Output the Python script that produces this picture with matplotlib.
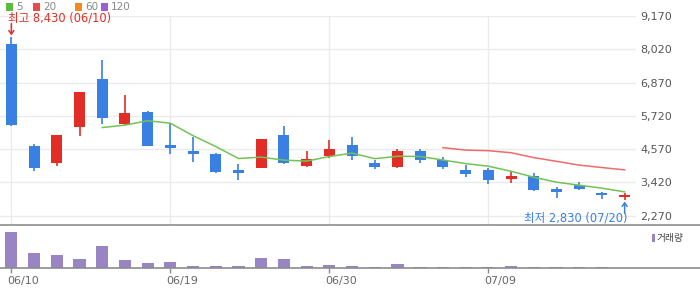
import numpy as np
import pandas as pd
import matplotlib
matplotlib.use("Agg")
import matplotlib.pyplot as plt
import matplotlib.transforms as mtransforms
from matplotlib.lines import Line2D
from matplotlib.patches import Rectangle

# -----------------------------
# data
# -----------------------------
tick_pos = [0, 7, 14, 21]
tick_labels = ["06/10", "06/19", "06/30", "07/09"]

opens = [8200, 4680, 4100, 5350, 6990, 5440, 5850, 4710, 4500, 4400,
         3850, 3930, 5060, 4000, 4340, 4710, 4100, 3960, 4510, 4200,
         3850, 3860, 3550, 3640, 3190, 3340, 3065, 2930]
highs = [8430, 4750, 5060, 6540, 7650, 6440, 5890, 5460, 5000, 4440,
         4060, 4920, 5370, 4510, 4890, 4990, 4195, 4590, 4590, 4300,
         4020, 3930, 3815, 3750, 3270, 3435, 3100, 3065]
lows = [5380, 3820, 4000, 5020, 5440, 5400, 4680, 4400, 4130, 3750,
        3500, 3930, 4070, 3960, 4275, 4200, 3890, 3930, 4100, 3890,
        3620, 3380, 3410, 3130, 2890, 3170, 2860, 2830]
closes = [5400, 3920, 5060, 6540, 5660, 5820, 4680, 4620, 4400, 3780,
          3750, 4920, 4100, 4230, 4575, 4340, 3960, 4510, 4200, 3960,
          3720, 3510, 3640, 3170, 3100, 3200, 3000, 3000]
volumes = [3630, 1500, 1300, 900, 2200, 800, 500, 600, 200, 200,
           200, 1000, 900, 200, 300, 200, 100, 430, 100, 100,
           100, 100, 200, 100, 100, 100, 100, 0]

price_ticks = [2270, 3420, 4570, 5720, 6870, 8020, 9170]
hi_label = "최고 8,430 (06/10)"
lo_label = "최저 2,830 (07/20)"

# -----------------------------
# style
# -----------------------------
UP = "#e12d26"
DOWN = "#3a7fe2"
MA5_C = "#72c356"
MA20_C = "#ef6b6b"
VOL_C = "#9a85c4"
GRID = "#ebebeb"
FONT = ["DejaVu Sans", "Noto Sans CJK KR"]
plt.rcParams["font.family"] = FONT

W, H = 700, 289
fig = plt.figure(figsize=(7, 2.89), dpi=100)

def fx(px):
    return px / W

def fy(py):
    return 1 - py / H

ax = fig.add_axes([0, fy(225), fx(636), fy(16) - fy(225)])
axv = fig.add_axes([0, fy(268), fx(636), fy(225) - fy(268)])

n = len(closes)
x = np.arange(n)
ma5 = pd.Series(closes).rolling(5).mean()
ma20 = pd.Series(closes).rolling(20).mean()

# grid
for t in price_ticks:
    ax.axhline(t, color=GRID, lw=1, zorder=0)
for t in tick_pos:
    ax.axvline(t, color=GRID, lw=1, zorder=0)

# candles
for i in range(n):
    c = UP if closes[i] >= opens[i] else DOWN
    ax.vlines(i, lows[i], highs[i], color=c, lw=1.2, zorder=3)
    b0 = min(opens[i], closes[i])
    bh = max(abs(closes[i] - opens[i]), 40)
    ax.add_patch(Rectangle((i - 0.245, b0), 0.49, bh, facecolor=c,
                           edgecolor="none", zorder=4))

ax.plot(x, ma5, color=MA5_C, lw=1.1, zorder=5)
ax.plot(x, ma20, color=MA20_C, lw=1.1, zorder=5)

ax.set_xlim(-0.5, n - 0.5)
ax.set_ylim(1949, 9170)
ax.set_yticks(price_ticks)
ax.set_yticklabels([f"{t:,}" for t in price_ticks])
ax.yaxis.tick_right()
ax.tick_params(axis="y", length=0, pad=3, labelsize=8, labelcolor="#555555")
ax.set_xticks([])
for s in ax.spines.values():
    s.set_visible(False)
ax.patch.set_alpha(0)

# high / low marks
i_hi = int(np.argmax(highs))
i_lo = int(np.argmin(lows))
ax.annotate("", xy=(i_hi, highs[i_hi]), xytext=(0, 10), textcoords="offset points",
            arrowprops=dict(arrowstyle="->,head_length=0.25,head_width=0.18",
                            color=UP, lw=1.1, shrinkA=0, shrinkB=1.5), annotation_clip=False)
ax.annotate(hi_label, xy=(i_hi, highs[i_hi]), xytext=(-2.6, 14), textcoords="offset points",
            ha="left", va="center", color=UP, fontsize=8.3, annotation_clip=False,
            family=FONT)
ax.annotate("", xy=(i_lo, lows[i_lo]), xytext=(0, -10), textcoords="offset points",
            arrowprops=dict(arrowstyle="->,head_length=0.25,head_width=0.18",
                            color=DOWN, lw=1.1, shrinkA=0, shrinkB=1.5), annotation_clip=False)
ax.annotate(lo_label, xy=(i_lo, lows[i_lo]), xytext=(2.2, -13.5), textcoords="offset points",
            ha="right", va="center", color=DOWN, fontsize=8.3, annotation_clip=False,
            family=FONT)

# volume
axv.bar(x, volumes, width=0.53, color=VOL_C, zorder=3)
axv.set_xlim(-0.5, n - 0.5)
axv.set_ylim(0, 4300)
axv.set_yticks([])
axv.set_xticks(tick_pos)
axv.set_xticklabels(tick_labels)
axv.tick_params(axis="x", length=3.5, width=1, color="#8c8c8c", pad=2.5,
                labelsize=8, labelcolor="#666666")
shift = mtransforms.ScaledTranslation(-4 / 100, 0, fig.dpi_scale_trans)
for lab in axv.get_xticklabels():
    lab.set_horizontalalignment("left")
    lab.set_transform(lab.get_transform() + shift)
for s in axv.spines.values():
    s.set_visible(False)
axv.patch.set_alpha(0)

# full-width separators
for py in (225, 268):
    fig.add_artist(Line2D([0, 1], [fy(py), fy(py)], transform=fig.transFigure,
                          color="#8c8c8c", lw=1.2))

# top legend
legend_items = [("5", "#5dbb3f", 6), ("20", "#e84b4b", 33), ("60", "#f28a22", 75),
                ("120", "#9a5fd0", 101)]
for lab, col, px in legend_items:
    fig.add_artist(Rectangle((fx(px), fy(10.5)), fx(7), fy(3.5) - fy(10.5),
                             transform=fig.transFigure, facecolor=col, edgecolor="none"))
    fig.text(fx(px + 10), fy(7), lab, ha="left", va="center", fontsize=7.5, color="#888888")

# volume legend
fig.add_artist(Rectangle((fx(652), fy(241.5)), fx(3), fy(234) - fy(241.5),
                         transform=fig.transFigure, facecolor=VOL_C, edgecolor="none"))
fig.text(fx(657), fy(238), "거래량", ha="left", va="center", fontsize=7,
         color="#444444", family=["Noto Sans CJK KR", "DejaVu Sans"])

fig.savefig("out.png", dpi=100)
